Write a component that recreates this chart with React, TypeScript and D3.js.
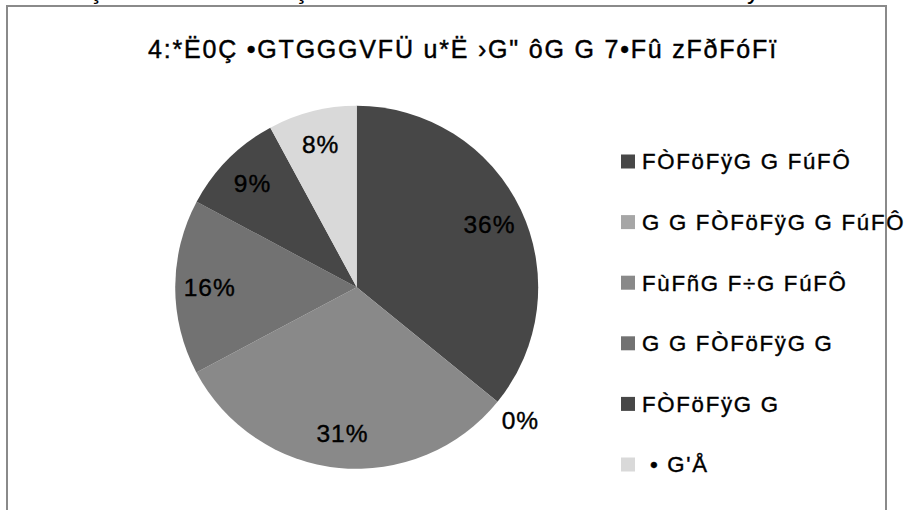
import React from "react";
import * as d3 from "d3";

const title = "4:*Ë0Ç •GTGGGVFÜ u*Ë ›G\" ôG G 7•Fû zFðFóFï";
const topStripText = "4:*Ë0Ç •GTGGGVFÜ Ç*Ë ›G\" ôG G 7•Fû zFðFóFï FÒFöFÿG G FúFÔ";
const categories = [
  "FÒFöFÿG G FúFÔ",
  "G G FÒFöFÿG G FúFÔ",
  "FùFñG F÷G FúFÔ",
  "G G FÒFöFÿG G",
  "FÒFöFÿG G",
  "\u00a0• G'Å",
];
const values = [35.9, 0, 31.4, 15.6, 9.3, 7.9];
const colors = ["#474747", "#a6a6a6", "#898989", "#727272", "#474747", "#d9d9d9"];

const W = 921;
const H = 510;
const FONT = "'Liberation Sans', Arial, sans-serif";

export default function App() {
  const cx = 356.7;
  const cy = 287.3;
  const R = 181.5;
  const total = d3.sum(values);
  const pie = d3
    .pie<number>()
    .sort(null)
    .value((d) => d);
  const arcs = pie(values);
  const arcGen = d3.arc<d3.PieArcDatum<number>>().innerRadius(0).outerRadius(R);
  const legendY = d3
    .scaleLinear()
    .domain([0, categories.length - 1])
    .range([161.5, 464.5]);

  return (
    <svg
      width={W}
      height={H}
      style={{ position: "absolute", left: 0, top: 0, background: "#fff" }}
      fontFamily={FONT}
    >
      <rect x={0} y={0} width={W} height={H} fill="#fff" />
      <text x={16} y={-1.5} fontSize={25} letterSpacing={1.8} fill="#000">
        {topStripText}
      </text>
      <rect x={7} y={6} width={879} height={H + 20} fill="#fff" stroke="#8a8a8a" strokeWidth={2} />
      <text x={148} y={58} fontSize={25} letterSpacing={1.8} fill="#000" stroke="#000" strokeWidth={0.45}>
        {title}
      </text>
      <g transform={`translate(${cx},${cy})`}>
        {arcs.map((a, i) => (
          <path key={i} d={arcGen(a) || ""} fill={colors[i]} />
        ))}
        {arcs.map((a, i) => {
          const frac = a.value / total;
          const mid = (a.startAngle + a.endAngle) / 2;
          const r = frac < 0.02 ? 211 : 147;
          const x = Math.sin(mid) * r;
          const y = -Math.cos(mid) * r;
          return (
            <text
              key={i}
              x={x}
              y={y}
              dy="0.35em"
              textAnchor="middle"
              fontSize={24.5}
              letterSpacing={1}
              fill="#000"
              stroke="#000"
              strokeWidth={0.4}
            >
              {Math.round(frac * 100) + "%"}
            </text>
          );
        })}
      </g>
      <g>
        {categories.map((c, i) => (
          <g key={i} transform={`translate(621,${legendY(i)})`}>
            <rect x={0} y={-7} width={14} height={14} fill={colors[i]} />
            <text x={21} y={7.8} fontSize={22.2} letterSpacing={1.75} fill="#000" stroke="#000" strokeWidth={0.4}>
              {c}
            </text>
          </g>
        ))}
      </g>
    </svg>
  );
}
